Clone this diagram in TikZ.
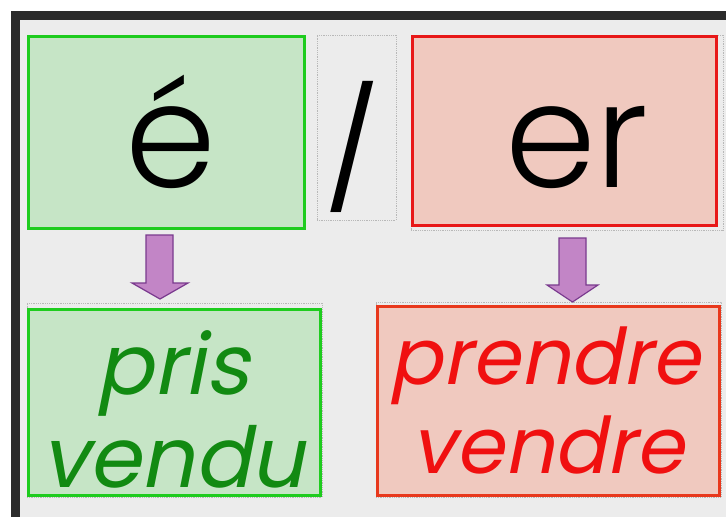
\documentclass[tikz,border=0pt]{standalone}
\usepackage{fontspec}
\setmainfont{Poppins}
\newfontfamily\lightfont{Poppins Light}
\newfontfamily\oblfont[FakeSlant=0.2]{Poppins}
\definecolor{framec}{HTML}{2B2B2B}
\definecolor{bgc}{HTML}{ECECEC}
\definecolor{gfill}{HTML}{C6E5C6}
\definecolor{gline}{HTML}{1ECC1E}
\definecolor{gtext}{HTML}{128A12}
\definecolor{rfill}{HTML}{F0C9BF}
\definecolor{rline}{HTML}{E81818}
\definecolor{rline2}{HTML}{E8381C}
\definecolor{rtext}{HTML}{F01010}
\definecolor{afill}{HTML}{C285C6}
\definecolor{aline}{HTML}{7A3A8E}
\definecolor{dotc}{HTML}{B8B8B8}
\begin{document}
\begin{tikzpicture}[x=1pt,y=-1pt,
  gbox/.style={draw=gline,fill=gfill,line width=3pt,rectangle,inner sep=0pt},
  rbox/.style={draw=rline,fill=rfill,line width=3pt,rectangle,inner sep=0pt},
  selbox/.style={draw=dotc,densely dotted,line width=0.8pt,rectangle,inner sep=0pt},
  bigtxt/.style={anchor=base,inner sep=0pt,font=\lightfont\fontsize{146}{146}\selectfont},
  gtxt/.style={anchor=base,inner sep=0pt,text=gtext,font=\oblfont\fontsize{84}{84}\selectfont},
  rtxt/.style={anchor=base,inner sep=0pt,text=rtext,font=\oblfont\fontsize{78}{78}\selectfont},
  blockarrow/.style={fill=afill,draw=aline,line width=1.2pt,line join=miter}]
\useasboundingbox (0,0) rectangle (726,517);
\fill[white] (0,0) rectangle (726,517);
\fill[framec] (11,11) rectangle (726,517);
\fill[bgc] (20,20) rectangle (726,517);
% selection frames
\node[selbox,minimum width=79pt,minimum height=185pt] (slashbox) at (356.5,127.5) {};
\node[selbox,minimum width=312pt,minimum height=195pt] (rsel) at (567,132.5) {};
\node[selbox,minimum width=295pt,minimum height=194pt] (gsel2) at (174.5,400) {};
\node[selbox,minimum width=345pt,minimum height=195pt] (rsel2) at (548.5,399.5) {};
% boxes
\node[gbox,minimum width=276pt,minimum height=192pt] (ebox) at (166.5,132.5) {};
\node[rbox,minimum width=304pt,minimum height=189pt] (erbox) at (564.5,131) {};
\node[gbox,minimum width=292pt,minimum height=186pt,line width=2.5pt] (gbox2) at (174.5,402.5) {};
\node[rbox,draw=rline2,minimum width=342pt,minimum height=189pt,line width=2.5pt] (rbox2) at (548.5,401) {};
% texts
\node[bigtxt] (etxt) at (171,187) {é};
\node[bigtxt,font=\fontsize{118}{118}\selectfont] (slash) at (353,192) {/};
\node[bigtxt] (ertxt) at (577,187) {er};
\node[gtxt] (pris) at (173,394) {pris};
\node[gtxt] (vendu) at (173,487) {vendu};
\node[rtxt] (prendre) at (545,384) {prendre};
\node[rtxt] (vendre) at (548,473) {vendre};
% arrows
\draw[blockarrow] (146,235) -- (173,235) -- (173,283) -- (188,283) -- (160,299) -- (132,283) -- (146,283) -- cycle;
\draw[blockarrow] (559,238) -- (586,238) -- (586,285) -- (598,285) -- (572.5,302) -- (547,285) -- (559,285) -- cycle;
\end{tikzpicture}
\end{document}
